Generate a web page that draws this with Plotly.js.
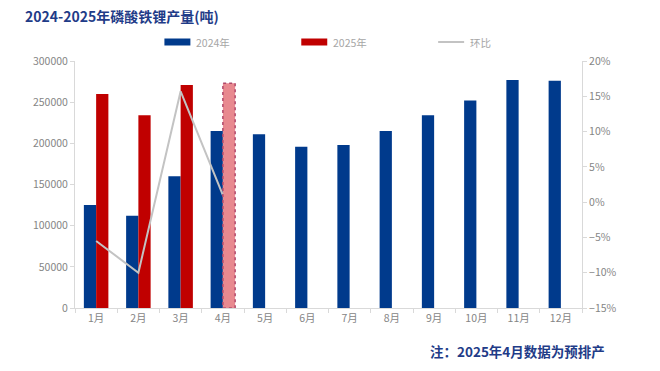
<!DOCTYPE html>
<html>
<head>
<meta charset="utf-8">
<script src="https://cdn.plot.ly/plotly-3.0.1.min.js"></script>
<style>html,body{margin:0;padding:0;background:#fff}#chart{width:660px;height:371px}</style>
</head>
<body>
<div id="chart"></div>
<script>
// ---- data ----
const months = ['1月','2月','3月','4月','5月','6月','7月','8月','9月','10月','11月','12月'];
const seriesNames = ['2024年','2025年','环比'];
const output2024 = [125000,112000,160000,215000,211000,196000,198000,215000,234000,252000,277000,276000];
const output2025 = [260000,234000,271000,273000];
const isForecast2025 = [false,false,false,true];
const momPct = [-5.5,-10.0,15.7,1.0];
const titleText = '2024-2025年磷酸铁锂产量(吨)';
const noteText = '注：2025年4月数据为预排产';

// ---- style ----
const BLUE = '#003a8c', RED = '#c00000', PINK = '#e8898f', PINK_EDGE = '#b0486a', LINE = '#c3c3c3';
const AXIS = '#d9d9d9', TICKTXT = '#858585', NAVY = '#1f3c88';
const W = 660, H = 371, L = 74.5, R = 582, T = 61, B = 308;
const px = x => (x - L) / (R - L);
const py = y => (B - y) / (B - T);
const BARGAP = 0.42, barW = (1 - BARGAP) / 2;

const traces = [
  {type:'bar', name:seriesNames[0], x:months, y:output2024, marker:{color:BLUE}, hoverinfo:'x+y'},
  {type:'bar', name:seriesNames[1], x:months.slice(0, output2025.length), y:output2025,
   marker:{color:isForecast2025.map(f => f ? PINK : RED), line:{width:0}}},
  {type:'scatter', mode:'lines', name:seriesNames[2], x:months.slice(0, momPct.length), y:momPct,
   yaxis:'y2', line:{color:LINE, width:2}}
];

const shapes = [];
const annotations = [];
// dotted outline on forecast bars
isForecast2025.forEach((f, i) => {
  if (!f) return;
  shapes.push({type:'rect', xref:'x', yref:'y', x0:i, x1:i + barW, y0:0, y1:output2025[i],
    line:{color:PINK_EDGE, width:1.5, dash:'dot'}, fillcolor:'rgba(0,0,0,0)'});
});
// manual legend
const legendX = [164, 301, 438];
const legendColors = [BLUE, RED, LINE];
seriesNames.forEach((n, i) => {
  if (i < 2) {
    shapes.push({type:'rect', xref:'paper', yref:'paper', x0:px(legendX[i]), x1:px(legendX[i] + 26),
      y0:py(45.5), y1:py(38.5), fillcolor:legendColors[i], line:{width:0}});
  } else {
    shapes.push({type:'line', xref:'paper', yref:'paper', x0:px(legendX[i]), x1:px(legendX[i] + 26),
      y0:py(42), y1:py(42), line:{color:legendColors[i], width:2}});
  }
  annotations.push({xref:'paper', yref:'paper', x:px(legendX[i] + 30), y:py(42), xanchor:'left', yanchor:'middle',
    text:n, showarrow:false, font:{family:'Noto Sans CJK SC, sans-serif', size:10.5, color:'#a6a6a6'}});
});
annotations.push({xref:'paper', yref:'paper', x:px(428), y:py(351), xanchor:'left', yanchor:'middle',
  text:'<b>' + noteText + '</b>', showarrow:false, font:{family:'Noto Sans CJK SC, sans-serif', size:13.5, color:NAVY}});

const layout = {
  width:W, height:H, paper_bgcolor:'#fff', plot_bgcolor:'#fff',
  margin:{l:L, r:W - R, t:T, b:H - B, pad:0},
  title:{text:'<b>' + titleText + '</b>', x:25 / W, xanchor:'left', xref:'container', y:1 - 17 / H, yanchor:'middle',
    yref:'container', font:{family:'Noto Sans CJK SC, sans-serif', size:14, color:NAVY}},
  showlegend:false,
  barmode:'group', bargap:BARGAP, bargroupgap:0,
  font:{family:'Noto Sans CJK SC, sans-serif', size:10.5, color:TICKTXT},
  xaxis:{type:'category', showgrid:false, showline:true, linecolor:AXIS, linewidth:1,
    ticks:'outside', tickson:'boundaries', ticklen:4, tickcolor:AXIS, zeroline:false,
    tickfont:{size:10.5, color:TICKTXT}},
  yaxis:{range:[0,300000], dtick:50000, tickformat:'d', showgrid:false, showline:true, linecolor:AXIS,
    ticks:'outside', ticklen:4, tickcolor:AXIS, zeroline:false, tickfont:{size:10.5, color:TICKTXT}},
  yaxis2:{overlaying:'y', side:'right', range:[-15,20], dtick:5, ticksuffix:'%', showgrid:false,
    showline:true, linecolor:AXIS, ticks:'outside', ticklen:4, tickcolor:AXIS, zeroline:false,
    tickfont:{size:10.5, color:TICKTXT}},
  shapes:shapes, annotations:annotations
};
Plotly.newPlot('chart', traces, layout, {displayModeBar:false, staticPlot:true});
</script>
</body>
</html>
